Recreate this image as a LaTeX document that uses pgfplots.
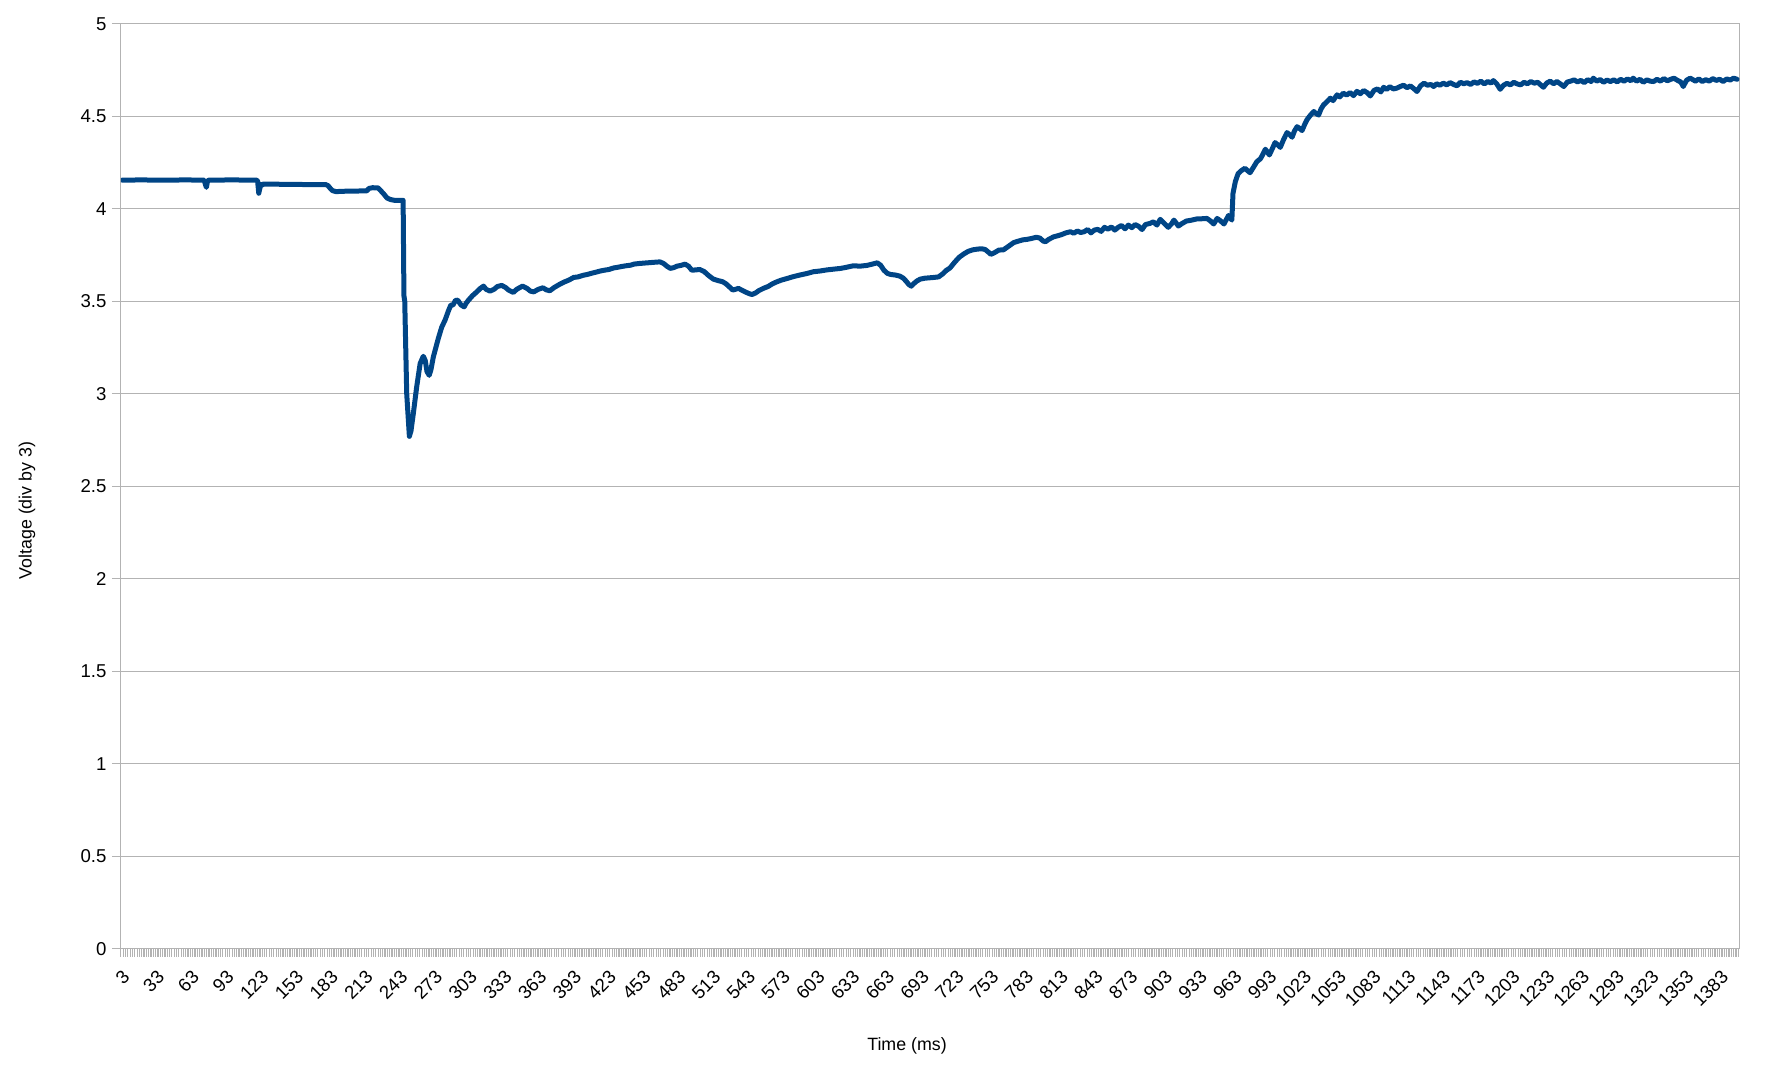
\documentclass[border=0pt]{standalone}
\usepackage{fontspec}
\setmainfont{Liberation Sans}
\usepackage{pgfplots}
\usepackage{pgfplotstable}
\pgfplotsset{compat=1.18}
\definecolor{series}{HTML}{004586}
\definecolor{gridc}{HTML}{B3B3B3}
\pgfplotstableread{
x y
3 4.155
18.9 4.156
38.5 4.155
58.1 4.156
73.8 4.155
74.8 4.135
75.8 4.116
76.8 4.150
77.8 4.155
97.4 4.156
119.0 4.155
120.0 4.150
121.0 4.084
121.9 4.110
122.9 4.133
123.9 4.128
124.9 4.134
146.5 4.132
166.1 4.131
178.8 4.131
180.8 4.125
182.8 4.110
184.7 4.098
187.7 4.093
195.5 4.095
205.3 4.096
214.2 4.097
216.1 4.110
219.1 4.114
224.0 4.113
226.0 4.100
228.9 4.080
231.8 4.058
234.8 4.050
238.7 4.045
245.6 4.046
246.3 3.53
247.0 3.50
248.7 3.00
251.0 2.77
252.4 2.80
254.4 2.893
257.3 3.037
260.3 3.164
263.0 3.203
264.7 3.18
266.2 3.12
268.1 3.10
269.6 3.13
271.7 3.20
276.0 3.30
278.9 3.36
281.9 3.40
284.8 3.45
286.8 3.48
288.7 3.48
290.7 3.505
292.7 3.506
295.6 3.48
298.3 3.47
300.0 3.49
302.0 3.506
305.4 3.53
309.2 3.551
312.3 3.57
315.0 3.582
317.2 3.565
320.6 3.555
324.1 3.565
327.0 3.58
330.7 3.586
333.9 3.575
336.8 3.560
340.7 3.548
343.7 3.565
348.6 3.582
352.5 3.570
355.5 3.555
358.4 3.551
362.3 3.565
366.3 3.573
369.2 3.562
372.2 3.557
376.1 3.575
381.0 3.593
384.9 3.605
388.8 3.615
392.8 3.629
396.7 3.632
400.6 3.640
404.5 3.645
408.5 3.652
412.4 3.658
415.3 3.663
419.2 3.668
423.2 3.672
427.1 3.680
430.0 3.683
434.0 3.688
437.9 3.692
441.8 3.695
444.8 3.701
448.7 3.704
452.6 3.706
456.5 3.708
460.5 3.710
464.4 3.712
467.3 3.713
470.3 3.705
473.2 3.690
476.2 3.678
479.1 3.682
482.0 3.690
486.0 3.695
488.9 3.701
491.9 3.690
494.8 3.668
498.7 3.670
501.7 3.672
505.6 3.660
509.5 3.638
513.4 3.620
517.4 3.612
521.3 3.606
524.2 3.595
527.2 3.578
530.1 3.561
533.1 3.566
535.0 3.570
538.0 3.560
541.9 3.548
544.9 3.540
546.8 3.537
549.8 3.545
552.7 3.558
556.6 3.570
560.6 3.580
564.5 3.595
568.4 3.606
572.3 3.615
576.3 3.622
582.2 3.633
588.0 3.642
593.9 3.650
599.8 3.660
605.7 3.664
611.6 3.670
617.5 3.674
623.4 3.678
628.3 3.684
634.2 3.692
640.0 3.690
645.9 3.694
649.9 3.700
654.8 3.708
657.7 3.695
660.6 3.668
663.6 3.651
666.5 3.645
670.5 3.642
674.4 3.636
677.3 3.625
679.3 3.612
682.2 3.590
684.2 3.582
686.2 3.595
689.1 3.610
692.0 3.620
696.0 3.625
699.9 3.627
703.8 3.629
707.8 3.632
711.7 3.650
714.6 3.668
717.6 3.680
721.5 3.710
725.4 3.737
729.3 3.755
733.3 3.770
737.2 3.778
741.1 3.782
745.0 3.784
748.0 3.780
750.9 3.765
752.9 3.754
755.8 3.762
759.8 3.777
763.7 3.778
767.6 3.795
772.5 3.817
776.4 3.825
780.4 3.832
784.3 3.835
788.2 3.840
792.1 3.846
795.1 3.842
798.0 3.826
800.0 3.822
802.9 3.835
806.9 3.848
809.8 3.853
813.7 3.860
817.7 3.870
821.6 3.876
824.5 3.868
827.5 3.880
830.4 3.872
833.4 3.876
836.3 3.888
839.3 3.870
842.2 3.885
845.1 3.889
848.1 3.878
851.0 3.900
854.0 3.890
856.9 3.902
859.9 3.885
862.8 3.900
865.7 3.910
868.7 3.892
871.6 3.912
874.6 3.898
877.5 3.915
880.5 3.905
883.4 3.888
886.3 3.915
890.3 3.921
893.2 3.930
896.2 3.912
899.1 3.943
902.0 3.925
906.0 3.900
909.0 3.920
910.9 3.939
914.8 3.907
917.8 3.920
921.7 3.934
925.6 3.938
930.5 3.945
934.5 3.946
939.4 3.948
942.3 3.935
945.2 3.918
948.2 3.948
951.1 3.935
954.1 3.918
956.0 3.940
958.0 3.964
960.9 3.939
961.9 4.084
963.9 4.147
966.3 4.190
968.8 4.205
972.2 4.219
974.7 4.205
976.6 4.195
979.6 4.225
982.5 4.255
985.5 4.270
987.4 4.291
989.8 4.322
991.3 4.310
993.3 4.291
995.8 4.325
998.2 4.358
1000.7 4.345
1002.7 4.332
1005.6 4.375
1008.5 4.412
1011.0 4.400
1012.9 4.387
1014.9 4.420
1017.2 4.444
1019.3 4.435
1021.5 4.423
1023.7 4.455
1025.7 4.481
1028.6 4.505
1031.6 4.526
1033.5 4.515
1035.8 4.507
1037.9 4.540
1040.1 4.562
1042.4 4.575
1045.9 4.598
1048.3 4.585
1051.7 4.616
1054.1 4.605
1057.1 4.625
1060.0 4.615
1063.0 4.628
1065.9 4.612
1068.9 4.635
1071.8 4.622
1074.7 4.639
1077.7 4.628
1080.4 4.610
1083.6 4.640
1086.5 4.648
1089.5 4.632
1091.9 4.657
1094.4 4.645
1097.3 4.660
1100.3 4.648
1103.2 4.652
1106.2 4.661
1109.1 4.668
1112.0 4.655
1115.0 4.664
1117.9 4.650
1120.7 4.634
1123.8 4.665
1126.8 4.679
1129.7 4.668
1132.7 4.672
1135.1 4.661
1137.6 4.676
1140.5 4.668
1143.4 4.679
1146.4 4.670
1149.3 4.682
1152.3 4.672
1155.2 4.665
1158.2 4.684
1161.1 4.676
1164.0 4.682
1167.0 4.672
1169.9 4.686
1172.9 4.678
1175.8 4.690
1178.8 4.675
1181.7 4.688
1184.6 4.680
1186.6 4.693
1189.6 4.675
1192.5 4.646
1195.4 4.668
1198.4 4.678
1201.3 4.670
1204.3 4.684
1207.2 4.675
1210.2 4.670
1213.1 4.684
1216.0 4.676
1219.0 4.688
1221.9 4.679
1224.9 4.684
1227.8 4.668
1229.8 4.657
1232.7 4.680
1235.7 4.690
1238.6 4.676
1241.5 4.688
1244.5 4.675
1247.4 4.661
1250.4 4.685
1253.3 4.690
1256.3 4.697
1259.2 4.686
1262.2 4.694
1265.1 4.682
1268.0 4.698
1271.0 4.688
1272.9 4.706
1275.9 4.690
1278.8 4.699
1281.8 4.684
1284.7 4.696
1287.7 4.688
1290.6 4.697
1293.5 4.686
1296.5 4.700
1299.4 4.690
1302.4 4.702
1305.3 4.692
1307.3 4.706
1310.2 4.690
1313.2 4.700
1316.1 4.684
1319.1 4.697
1322.0 4.690
1324.9 4.688
1327.9 4.700
1330.8 4.690
1333.8 4.704
1336.7 4.692
1339.7 4.700
1342.6 4.706
1345.6 4.694
1348.5 4.685
1350.5 4.661
1353.4 4.695
1356.4 4.706
1358.3 4.700
1361 4.690
1364 4.702
1367 4.688
1370 4.698
1373 4.690
1376 4.704
1379 4.694
1382 4.700
1385 4.688
1388 4.702
1391 4.696
1394 4.706
1397 4.700
}\voltdata
\begin{document}
\begin{tikzpicture}
\begin{axis}[
  at={(0,0)}, anchor=south west,
  scale only axis, width=809.25pt, height=462.5pt,
  xmin=2, xmax=1399, ymin=0, ymax=5,
  ytick={0,0.5,...,5},
  yticklabels={0,0.5,1,1.5,2,2.5,3,3.5,4,4.5,5},
  xtick={3,33,...,1383},
  minor xtick={2,4,...,1398},
  xtick pos=left, ytick pos=left,
  tick align=outside,
  axis line style={gridc, line width=0.6pt},
  ymajorgrids,
  major grid style={gridc, line width=0.6pt},
  tick style={gridc, line width=0.6pt},
  major x tick style={draw=none},
  major tick length=4.5pt,
  minor tick length=4pt,
  /pgf/number format/assume math mode=true,
  /pgf/number format/1000 sep={},
  tick label style={font=\fontsize{9.3}{11}\selectfont, text=black},
  yticklabel style={anchor=east, inner sep=0pt, xshift=-2.5pt},
  xticklabel style={xshift=2.2pt, yshift=-8pt, rotate=45, anchor=east, inner sep=0pt},
  label style={font=\fontsize{8.9}{11}\selectfont},
  xlabel={Time (ms)},
  ylabel={Voltage (div by 3)},
  xlabel style={at={(rel axis cs:0.4857,0)}, anchor=center, yshift=-48.5pt},
  ylabel style={at={(rel axis cs:0,0.4738)}, anchor=center, yshift=46.9pt},
]
\addplot[series, line width=2.5pt, line join=round, line cap=round] table[x=x, y=y] {\voltdata};
\end{axis}
\pgfresetboundingbox
\useasboundingbox (-60.45pt,-64.1pt) rectangle (825.05pt,474.4pt);
\end{tikzpicture}
\end{document}
